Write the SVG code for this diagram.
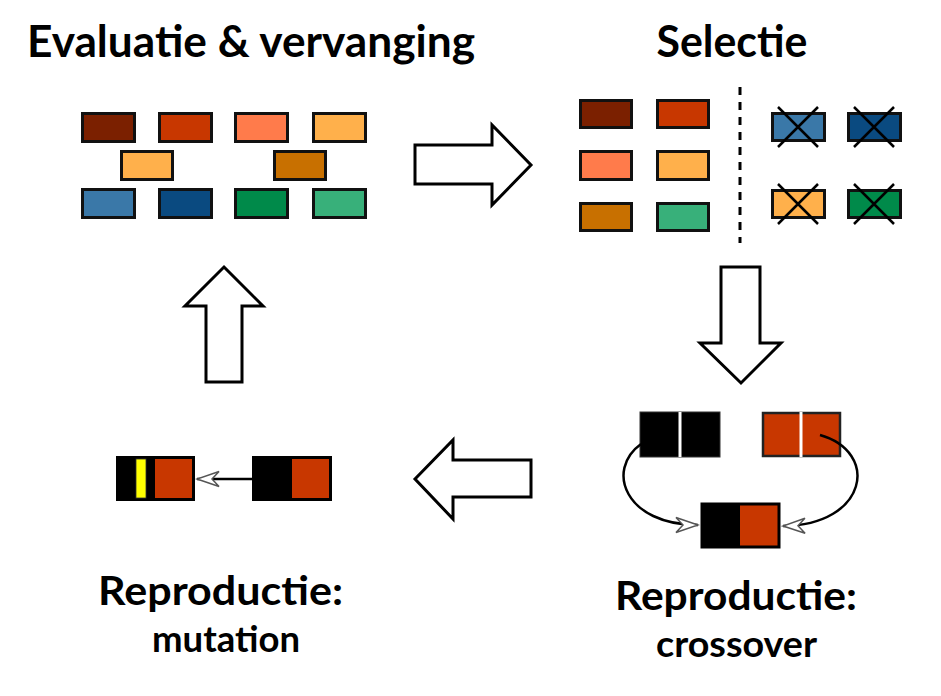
<svg xmlns="http://www.w3.org/2000/svg" width="941" height="696" viewBox="0 0 941 696">
<style>
.t{font-family:Lato,"Open Sans","Liberation Sans",sans-serif;font-weight:bold;fill:#000;text-anchor:middle}
.g{stroke:#111;stroke-width:3}
.blk{fill:#fff;stroke:#000;stroke-width:3;stroke-linejoin:miter}
.ln{fill:none;stroke:#000;stroke-width:2.5}
.x{stroke:#000;stroke-width:2.5}
</style>
<defs>
<marker id="ah" viewBox="-24 -10 26 20" refX="0" refY="0" markerWidth="26" markerHeight="20" markerUnits="userSpaceOnUse" orient="auto">
<path d="M0,0 L-22,-7.5 L-15,0 L-22,7.5 Z" fill="#fff" stroke="#555" stroke-width="1.5" stroke-linejoin="miter"/>
</marker>
</defs>
<rect width="941" height="696" fill="#fff"/>

<g id="title-eval"><text class="t" x="251" y="57" font-size="44" textLength="448" lengthAdjust="spacingAndGlyphs">Evaluatie &amp; vervanging</text></g>
<g id="title-selectie"><text class="t" x="732" y="57" font-size="44" textLength="151" lengthAdjust="spacingAndGlyphs">Selectie</text></g>

<g id="population">
<rect class="g" x="82.5" y="113.5" width="52" height="28" fill="#7B2000"/>
<rect class="g" x="159.5" y="113.5" width="52" height="28" fill="#C83700"/>
<rect class="g" x="235.5" y="113.5" width="52" height="28" fill="#FF7B4B"/>
<rect class="g" x="313.5" y="113.5" width="52" height="28" fill="#FFB04B"/>
<rect class="g" x="121.5" y="151.5" width="51" height="28" fill="#FFB04B"/>
<rect class="g" x="274.5" y="151.5" width="51" height="28" fill="#C87000"/>
<rect class="g" x="82.5" y="189.5" width="52" height="28" fill="#3A78A8"/>
<rect class="g" x="159.5" y="189.5" width="52" height="28" fill="#0A4A80"/>
<rect class="g" x="235.5" y="189.5" width="52" height="28" fill="#008A4A"/>
<rect class="g" x="313.5" y="189.5" width="52" height="28" fill="#38B07A"/>
</g>

<g id="selection">
<rect class="g" x="580.5" y="100.5" width="51" height="27" fill="#7B2000"/>
<rect class="g" x="657.5" y="100.5" width="51" height="27" fill="#C83700"/>
<rect class="g" x="580.5" y="151.5" width="51" height="28" fill="#FF7B4B"/>
<rect class="g" x="657.5" y="151.5" width="51" height="28" fill="#FFB04B"/>
<rect class="g" x="580.5" y="203.5" width="51" height="27" fill="#C87000"/>
<rect class="g" x="657.5" y="203.5" width="51" height="27" fill="#38B07A"/>
<line x1="740" y1="87" x2="740" y2="243" stroke="#000" stroke-width="3" stroke-dasharray="8 7"/>
<rect class="g" x="772.5" y="113.5" width="52" height="27" fill="#3A78A8"/>
<rect class="g" x="848.5" y="113.5" width="52" height="27" fill="#0A4A80"/>
<rect class="g" x="772.5" y="190.5" width="52" height="27" fill="#FFB04B"/>
<rect class="g" x="848.5" y="190.5" width="52" height="27" fill="#008A4A"/>
<path class="x" d="M778,107 L818,147 M818,107 L778,147 M854,107 L894,147 M894,107 L854,147 M778,184 L818,224 M818,184 L778,224 M854,184 L894,224 M894,184 L854,224"/>
</g>

<g id="crossover">
<rect x="640" y="412" width="80" height="45" fill="#000" stroke="#333" stroke-width="1"/>
<line x1="680" y1="412" x2="680" y2="457" stroke="#fff" stroke-width="3"/>
<rect x="763" y="413" width="77" height="43" fill="#C83700" stroke="#222" stroke-width="2.5"/>
<line x1="801" y1="412" x2="801" y2="457" stroke="#fff" stroke-width="3"/>
<rect x="702" y="504" width="77" height="43" fill="#C83700" stroke="#000" stroke-width="3"/>
<rect x="701" y="503" width="39" height="45" fill="#000"/>
</g>

<g id="mutation">
<rect x="116" y="456" width="79" height="45" fill="#000"/>
<rect x="136" y="459" width="10" height="39" fill="#FFFF00" stroke="#333" stroke-width="0.8"/>
<rect x="155" y="459" width="37" height="39" fill="#C83700"/>
<rect x="252" y="456" width="80" height="45" fill="#000"/>
<rect x="292" y="459" width="37" height="39" fill="#C83700"/>
</g>

<g id="label-crossover">
<text class="t" x="736" y="610" font-size="40" textLength="242" lengthAdjust="spacingAndGlyphs">Reproductie:</text>
<text class="t" x="736.5" y="657" font-size="36" textLength="161" lengthAdjust="spacingAndGlyphs">crossover</text>
</g>
<g id="label-mutation">
<text class="t" x="220.5" y="605" font-size="40" textLength="245" lengthAdjust="spacingAndGlyphs">Reproductie:</text>
<text class="t" x="226" y="652" font-size="36" textLength="148" lengthAdjust="spacingAndGlyphs">mutation</text>
</g>

<g id="connectors">
<polygon class="blk" points="415,145 492,145 492,125 531,165 492,205 492,184 415,184"/>
<polygon class="blk" points="721,267 760,267 760,343 781,343 741,383 700,343 721,343"/>
<polygon class="blk" points="415,479 453,440 453,460 531,460 531,497 453,497 453,519"/>
<polygon class="blk" points="224,267 263,306 242,306 242,382 206,382 206,306 185,306"/>
<path class="ln" d="M641,444 C605,470 625,525 698,525" marker-end="url(#ah)"/>
<path class="ln" d="M820,435 C880,452 868,525 783,526" marker-end="url(#ah)"/>
<line x1="252" y1="479" x2="197" y2="479" stroke="#000" stroke-width="2.5" marker-end="url(#ah)"/>
</g>
</svg>
